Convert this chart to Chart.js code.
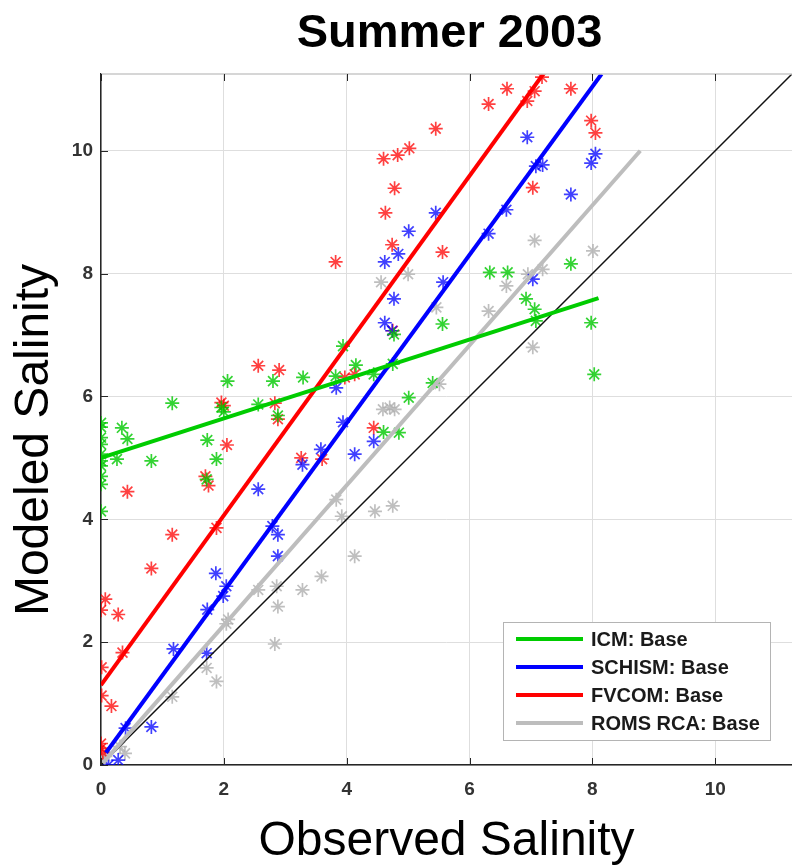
<!DOCTYPE html>
<html>
<head>
<meta charset="utf-8">
<title>Summer 2003</title>
<script src="https://cdn.jsdelivr.net/npm/chart.js@4.4.1/dist/chart.umd.min.js"></script>
<style>
  html, body { margin: 0; padding: 0; background: #fff; }
  #wrap { width: 792px; height: 868px; }
</style>
</head>
<body>
<div id="wrap"><canvas id="salinity-chart" width="792" height="868"></canvas></div>
<script>
// Observed vs modeled salinity, summer 2003
const seriesNames = ["ICM: Base", "SCHISM: Base", "FVCOM: Base", "ROMS RCA: Base"];

const icmObs = [0, 0, 0, 0, 0, 0, 0, 0, 0, 0, 0.34, 0.43, 0.26, 0.82, 1.16, 1.73, 1.88, 1.72, 1.96, 2.0, 2.06, 2.56, 2.8, 2.88, 3.29, 3.82, 4.15, 3.94, 4.44, 4.77, 4.75, 5.56, 5.01, 4.6, 4.85, 5.4, 6.33, 6.62, 6.92, 7.06, 7.08, 7.65, 7.98, 8.03];
const icmMod = [5.57, 5.5, 5.33, 5.22, 5.06, 4.95, 4.87, 4.7, 4.57, 4.13, 5.49, 5.31, 4.98, 4.95, 5.89, 5.29, 4.98, 4.65, 5.82, 5.75, 6.25, 5.87, 6.25, 5.69, 6.31, 6.33, 6.51, 6.82, 6.36, 7.01, 6.53, 7.18, 5.98, 5.42, 5.41, 6.22, 8.02, 8.02, 7.59, 7.42, 7.23, 8.16, 7.2, 6.36];

const schismObs = [0.12, 0.28, 0.4, 0.82, 1.18, 1.72, 1.73, 1.87, 1.99, 2.04, 2.56, 2.79, 2.88, 2.88, 3.28, 3.58, 3.83, 3.94, 4.13, 4.44, 4.62, 4.84, 4.77, 4.62, 4.74, 5.01, 5.45, 5.57, 6.31, 6.6, 6.94, 7.08, 7.19, 7.03, 7.65, 7.98, 8.05];
const schismMod = [0.0, 0.08, 0.6, 0.62, 1.89, 1.82, 2.53, 3.12, 2.75, 2.91, 4.49, 3.89, 3.75, 3.4, 4.89, 5.14, 6.14, 5.58, 5.06, 5.27, 8.19, 8.32, 7.59, 7.2, 7.07, 8.69, 8.99, 7.86, 8.65, 9.04, 10.22, 9.75, 9.77, 7.91, 9.29, 9.8, 9.95];

const fvcomObs = [0, 0, 0.03, 0.01, 0.17, 0.01, 0.35, 0, 0.07, 0.28, 0.82, 1.16, 1.88, 0.43, 1.7, 1.75, 1.96, 2.0, 2.05, 2.56, 2.9, 2.83, 2.88, 3.26, 3.6, 3.97, 4.13, 4.44, 3.82, 4.75, 4.74, 5.56, 4.63, 4.78, 4.6, 4.83, 5.02, 5.45, 6.31, 6.61, 6.94, 7.06, 7.18, 7.65, 7.98, 8.05, 7.03];
const fvcomMod = [0.35, 0.27, 0.2, 1.13, 0.96, 1.59, 1.83, 2.52, 2.7, 2.45, 3.2, 3.75, 3.86, 4.45, 4.7, 4.55, 5.9, 5.85, 5.21, 6.5, 6.43, 5.89, 5.63, 5.0, 4.98, 6.31, 6.36, 5.49, 8.19, 7.07, 8.47, 8.35, 8.99, 9.39, 9.87, 9.93, 10.04, 10.36, 10.76, 11.01, 10.81, 10.97, 11.2, 11.01, 10.49, 10.29, 9.4];

const romsObs = [0, 0.07, 0.39, 0.31, 1.16, 1.72, 1.88, 2.07, 2.04, 2.56, 2.83, 2.88, 2.86, 3.28, 3.59, 3.83, 3.92, 4.13, 4.46, 4.75, 4.59, 4.7, 4.78, 5.0, 4.56, 5.46, 5.51, 6.31, 6.6, 6.95, 7.19, 7.06, 8.01, 7.03];
const romsMod = [0.08, 0.14, 0.19, 0.3, 1.11, 1.58, 1.36, 2.37, 2.3, 2.85, 1.97, 2.58, 2.91, 2.85, 3.07, 4.32, 4.05, 3.4, 4.13, 4.22, 5.79, 5.82, 5.79, 7.99, 7.86, 7.45, 6.2, 7.39, 7.8, 7.99, 8.07, 8.54, 8.37, 6.8];

// regression line end points [start, end]
const icmFitObs = [0, 8.1];
const icmFitMod = [5.0, 7.6];
const schismFitObs = [0.08, 8.15];
const schismFitMod = [0.2, 11.25];
const fvcomFitObs = [0, 7.2];
const fvcomFitMod = [1.3, 11.25];
const romsFitObs = [0.03, 8.78];
const romsFitMod = [0.03, 10.0];
const oneToOne = [0, 11.25];

const axisMax = 11.25;
const xTicks = [0, 2, 4, 6, 8, 10];
const yTicks = [0, 2, 4, 6, 8, 10];

const colors = ["#00cc00", "#0000ff", "#ff0000", "#bdbdbd"];
const markerColors = ["rgba(0,200,0,0.8)", "rgba(0,0,255,0.75)", "rgba(255,0,0,0.75)", "rgba(175,175,175,0.8)"];

function pairs(xs, ys) {
  return xs.map((x, i) => ({ x: x, y: ys[i] }));
}

const observed = [icmObs, schismObs, fvcomObs, romsObs];
const modeled = [icmMod, schismMod, fvcomMod, romsMod];
const fitObs = [icmFitObs, schismFitObs, fvcomFitObs, romsFitObs];
const fitMod = [icmFitMod, schismFitMod, fvcomFitMod, romsFitMod];

const datasets = [];
// fitted lines first so they sit on top of the markers
seriesNames.forEach((name, i) => {
  datasets.push({
    label: name,
    data: pairs(fitObs[i], fitMod[i]),
    showLine: true,
    borderColor: colors[i],
    backgroundColor: colors[i],
    borderWidth: 4,
    pointRadius: 0
  });
});
datasets.push({
  label: "1:1",
  data: pairs(oneToOne, oneToOne),
  showLine: true,
  borderColor: "#111",
  borderWidth: 1.5,
  pointRadius: 0
});
seriesNames.forEach((name, i) => {
  datasets.push({
    label: name + " points",
    data: pairs(observed[i], modeled[i]),
    showLine: false,
    pointStyle: "star",
    pointRadius: 7,
    borderWidth: 1.7,
    borderColor: markerColors[i],
    backgroundColor: markerColors[i]
  });
});

const FONT = "'Liberation Sans', Arial, sans-serif";

// title, axis labels, box edge, inward ticks and the legend box
const decorations = {
  id: "decorations",
  afterDraw(chart) {
    const { ctx, chartArea: a, scales } = chart;
    ctx.save();

    ctx.strokeStyle = "#c8c8c8";
    ctx.lineWidth = 1.5;
    ctx.beginPath();
    ctx.moveTo(a.left, a.top);
    ctx.lineTo(a.right, a.top);
    ctx.stroke();

    ctx.strokeStyle = "#262626";
    ctx.lineWidth = 1;
    ctx.beginPath();
    xTicks.forEach(v => {
      const px = Math.round(scales.x.getPixelForValue(v)) + 0.5;
      ctx.moveTo(px, a.bottom); ctx.lineTo(px, a.bottom - 7);
      ctx.moveTo(px, a.top); ctx.lineTo(px, a.top + 7);
    });
    yTicks.forEach(v => {
      const py = Math.round(scales.y.getPixelForValue(v)) + 0.5;
      ctx.moveTo(a.left, py); ctx.lineTo(a.left + 7, py);
    });
    ctx.stroke();

    const cx = (a.left + a.right) / 2;
    ctx.fillStyle = "#000";
    ctx.textAlign = "center";
    ctx.textBaseline = "middle";
    ctx.font = "bold 47px " + FONT;
    ctx.fillText("Summer 2003", cx + 3, 34);
    ctx.font = "48px " + FONT;
    ctx.fillText("Observed Salinity", cx, 842);
    ctx.save();
    ctx.translate(35, 440);
    ctx.rotate(-Math.PI / 2);
    ctx.fillText("Modeled Salinity", 0, 0);
    ctx.restore();

    // legend
    const box = { left: 503, top: 622, right: 770, bottom: 740 };
    ctx.fillStyle = "#fff";
    ctx.fillRect(box.left, box.top, box.right - box.left, box.bottom - box.top);
    ctx.strokeStyle = "#b4b4b4";
    ctx.lineWidth = 1;
    ctx.strokeRect(box.left + 0.5, box.top + 0.5, box.right - box.left, box.bottom - box.top);
    ctx.font = "bold 20px " + FONT;
    ctx.textAlign = "left";
    seriesNames.forEach((name, i) => {
      const y = 639 + i * 28;
      ctx.strokeStyle = colors[i];
      ctx.lineWidth = 4;
      ctx.beginPath();
      ctx.moveTo(516, y);
      ctx.lineTo(583, y);
      ctx.stroke();
      ctx.fillStyle = "#1a1a1a";
      ctx.fillText(name, 591, y + 1);
    });
    ctx.restore();
  }
};

const tickFont = { family: FONT, size: 19, weight: "bold" };

new Chart(document.getElementById("salinity-chart").getContext("2d"), {
  type: "scatter",
  data: { datasets: datasets },
  options: {
    responsive: false,
    animation: false,
    layout: { autoPadding: false, padding: { top: 74, right: 0, bottom: 0, left: 0 } },
    plugins: {
      legend: { display: false },
      tooltip: { enabled: false },
      title: { display: false }
    },
    scales: {
      x: {
        type: "linear",
        min: 0,
        max: axisMax,
        afterBuildTicks: s => { s.ticks = xTicks.map(v => ({ value: v })); },
        afterFit: s => { s.height = 103; },
        grid: { color: "#dedede", lineWidth: 1, drawTicks: false },
        border: { color: "#262626", width: 1.5 },
        ticks: { color: "#333", font: tickFont, padding: 13, maxRotation: 0 }
      },
      y: {
        type: "linear",
        min: 0,
        max: axisMax,
        afterBuildTicks: s => { s.ticks = yTicks.map(v => ({ value: v })); },
        afterFit: s => { s.width = 101; },
        grid: { color: "#dedede", lineWidth: 1, drawTicks: false },
        border: { color: "#262626", width: 1.5 },
        ticks: { color: "#333", font: tickFont, padding: 8 }
      }
    }
  },
  plugins: [decorations]
});
</script>
</body>
</html>
